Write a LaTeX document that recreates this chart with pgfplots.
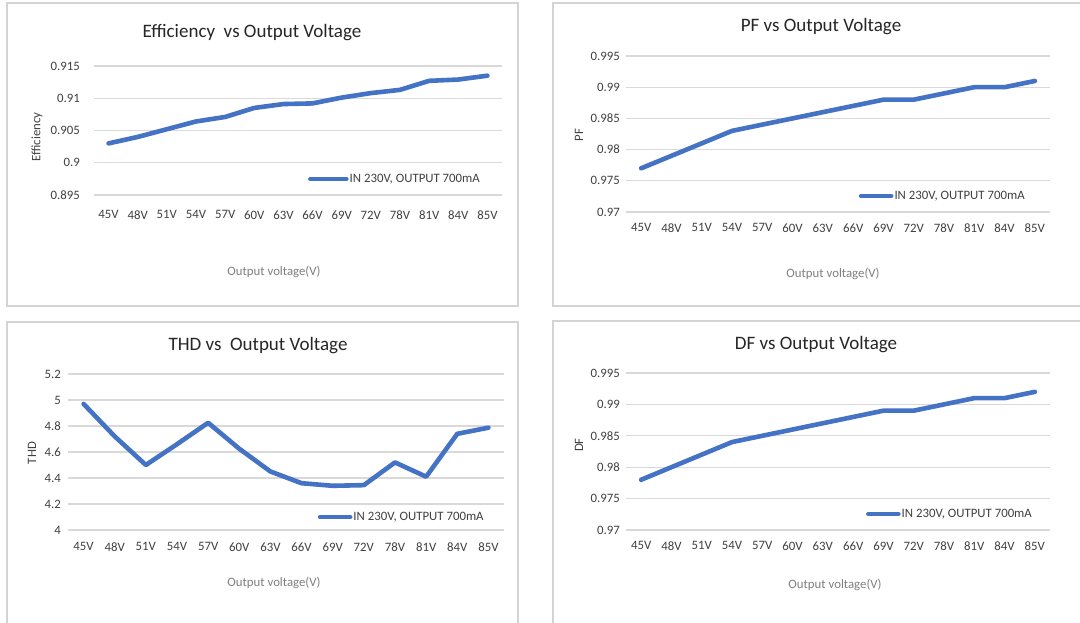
\documentclass[border=0pt]{standalone}
\usepackage{pgfplots}
\pgfplotsset{compat=1.18}
\usepackage{fontspec}
\setmainfont{Carlito}
\definecolor{linec}{HTML}{4472C4}
\definecolor{gridc}{HTML}{D9D9D9}
\definecolor{tickc}{HTML}{404040}
\definecolor{titlec}{HTML}{262626}
\definecolor{labc}{HTML}{7F7F7F}
\definecolor{framec}{HTML}{D4D4D4}
\newcommand{\ticksize}{\fontsize{12.8}{15}\selectfont}
\newcommand{\titlesize}{\fontsize{19}{22}\selectfont}
\pgfplotsset{
  panel/.style={
    scale only axis,
    axis line style={draw=none},
    major tick length=0pt,
    ymajorgrids,
    grid style={color=gridc, line width=1.3pt},
    xmin=-0.5, xmax=13.5,
    xtick={0,...,13},
    xticklabels={45V,48V,51V,54V,57V,60V,63V,66V,69V,72V,78V,81V,84V,85V},
    ticklabel style={font=\ticksize, text=tickc, inner sep=0pt},
    xticklabel style={anchor=north},
    yticklabel style={anchor=east, /pgf/number format/fixed, /pgf/number format/precision=3, /pgf/number format/assume math mode=true},
    legend style={draw=none, fill=none, inner sep=0pt, anchor=east, font=\ticksize, text=tickc, nodes={inner sep=1pt}},
    legend cell align=left,
  },
  ser/.style={color=linec, line width=4.6pt, line cap=round, line join=round, mark=none},
  limg/.style={legend image code/.code={\draw[color=linec, line width=4.6pt, line cap=round] (0pt,0pt) -- (#1,0pt);}},
}
\begin{document}
\begin{tikzpicture}[x=1pt,y=1pt]
\useasboundingbox (0,0) rectangle (1080,622);
\fill[white] (0,0) rectangle (1080,622);
% frames
\draw[framec, line width=2pt] (7,316) rectangle (518,619);
\draw[framec, line width=2pt] (553,316) rectangle (1090,619);
\draw[framec, line width=2pt] (7,-10) rectangle (518,300);
\draw[framec, line width=2pt] (553,-10) rectangle (1090,301);

% Panel 1: Efficiency
\begin{axis}[panel, at={(94pt,427pt)}, anchor=south west, width=408pt, height=129pt,
  ymin=0.895, ymax=0.915, ytick={0.895,0.9,0.905,0.91,0.915},
  xticklabel style={yshift=-15.5pt}, yticklabel style={xshift=-14pt},
  legend style={at={(0.9485,0.124)}}, limg=36pt]
\addplot[ser] coordinates {(0,0.9030) (1,0.9040) (2,0.9052) (3,0.9064) (4,0.9071) (5,0.9085) (6,0.9091) (7,0.9092) (8,0.9101) (9,0.9108) (10,0.9113) (11,0.9127) (12,0.9129) (13,0.9135)};
\addlegendentry{IN 230V, OUTPUT 700mA}
\end{axis}

% Panel 2: PF
\begin{axis}[panel, at={(626pt,410pt)}, anchor=south west, width=424pt, height=156pt,
  ymin=0.97, ymax=0.995, ytick={0.97,0.975,0.98,0.985,0.99,0.995},
  xticklabel style={yshift=-11.5pt}, yticklabel style={xshift=-6pt},
  legend style={at={(0.943,0.1026)}}, limg=30pt]
\addplot[ser] coordinates {(0,0.977) (1,0.979) (2,0.981) (3,0.983) (4,0.984) (5,0.985) (6,0.986) (7,0.987) (8,0.988) (9,0.988) (10,0.989) (11,0.990) (12,0.990) (13,0.991)};
\addlegendentry{IN 230V, OUTPUT 700mA}
\end{axis}

% Panel 3: THD
\begin{axis}[panel, at={(68pt,92pt)}, anchor=south west, width=436pt, height=156pt,
  ymin=4, ymax=5.2, ytick={4,4.2,4.4,4.6,4.8,5,5.2},
  xticklabel style={yshift=-12.5pt}, yticklabel style={xshift=-7pt},
  legend style={at={(0.956,0.083)}}, limg=30pt]
\addplot[ser] coordinates {(0,4.97) (1,4.72) (2,4.50) (3,4.66) (4,4.825) (5,4.625) (6,4.45) (7,4.36) (8,4.34) (9,4.345) (10,4.52) (11,4.41) (12,4.74) (13,4.787)};
\addlegendentry{IN 230V, OUTPUT 700mA}
\end{axis}

% Panel 4: DF
\begin{axis}[panel, at={(626pt,92pt)}, anchor=south west, width=424pt, height=157pt,
  ymin=0.97, ymax=0.995, ytick={0.97,0.975,0.98,0.985,0.99,0.995},
  xticklabel style={yshift=-11.5pt}, yticklabel style={xshift=-6pt},
  legend style={at={(0.96,0.102)}}, limg=30pt]
\addplot[ser] coordinates {(0,0.978) (1,0.980) (2,0.982) (3,0.984) (4,0.985) (5,0.986) (6,0.987) (7,0.988) (8,0.989) (9,0.989) (10,0.990) (11,0.991) (12,0.991) (13,0.992)};
\addlegendentry{IN 230V, OUTPUT 700mA}
\end{axis}

% titles
\node[font=\titlesize, text=titlec] at (252,589) {Efficiency\ \ vs Output Voltage};
\node[font=\titlesize, text=titlec] at (821,595) {PF vs Output Voltage};
\node[font=\titlesize, text=titlec] at (258,276) {THD vs\ \ Output Voltage};
\node[font=\titlesize, text=titlec] at (816,277) {DF vs Output Voltage};
% x labels
\node[font=\ticksize, text=labc] at (274,350) {Output voltage(V)};
\node[font=\ticksize, text=labc] at (833,348) {Output voltage(V)};
\node[font=\ticksize, text=labc] at (274,39) {Output voltage(V)};
\node[font=\ticksize, text=labc] at (835,37) {Output voltage(V)};
% y labels
\node[font=\ticksize, text=tickc, rotate=90] at (37,485) {Efficiency};
\node[font=\ticksize, text=tickc, rotate=90] at (579,487) {PF};
\node[font=\ticksize, text=tickc, rotate=90] at (32,169) {THD};
\node[font=\ticksize, text=tickc, rotate=90] at (579,177) {DF};
\end{tikzpicture}
\end{document}
